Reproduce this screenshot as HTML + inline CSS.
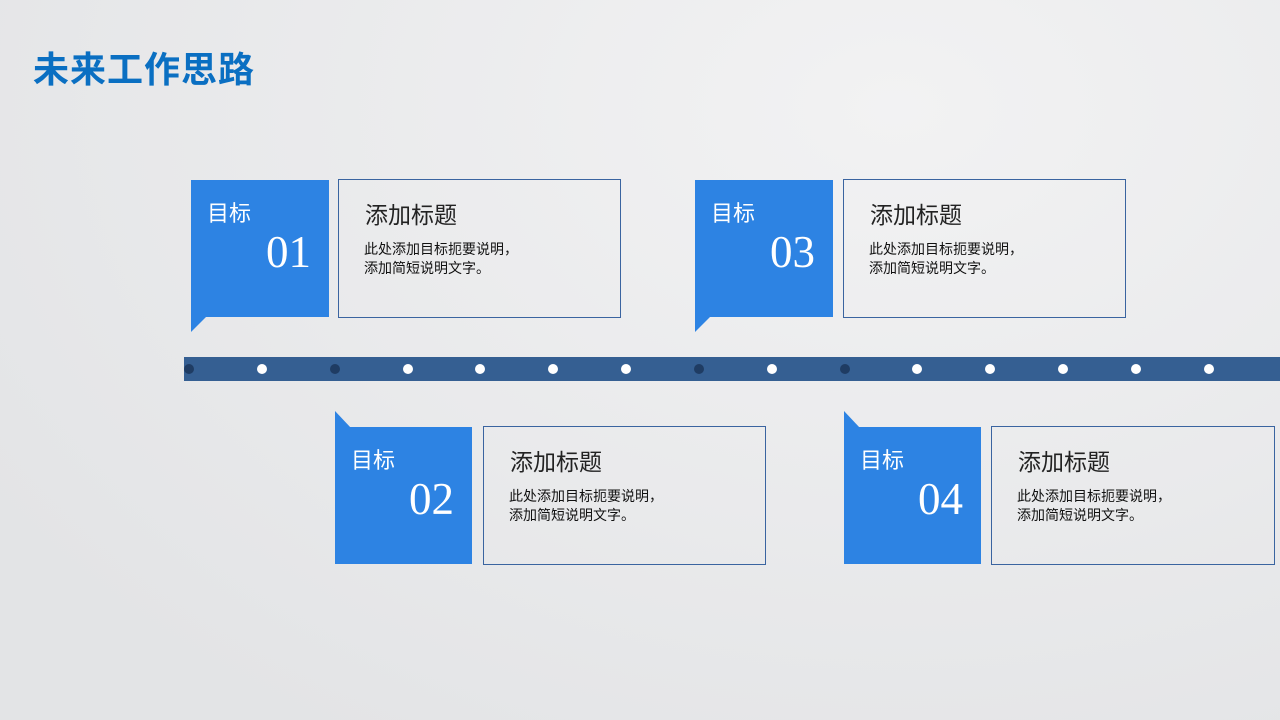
<!DOCTYPE html>
<html><head><meta charset="utf-8"><style>
body{margin:0;width:1280px;height:720px;overflow:hidden;background:radial-gradient(ellipse at 70% 15%,#f2f2f3,#e3e4e6 85%);font-family:"Liberation Sans","Noto Sans CJK SC",sans-serif;position:relative}
.a{position:absolute}
.blue{position:absolute;background:#2d83e3;width:138px;height:137px}
.out{position:absolute;border:1px solid #3a64a0;width:283px;height:139px;box-sizing:border-box}
.lbl{position:absolute;left:16px;top:16px;color:#fff;font-size:22px}
.num{position:absolute;right:18px;top:46px;color:#fff;font-size:45px;font-family:"Liberation Serif",serif}
.h{position:absolute;left:26px;top:16px;font-size:23px;color:#222}
.d{position:absolute;left:25px;top:60px;font-size:14px;line-height:19px;color:#111}
.dot{position:absolute;width:10px;height:10px;border-radius:50%;top:364px;background:#fff}
.dk{background:#1f3c63}
</style></head><body>
<div class="a" style="left:33px;top:41px;font-size:36px;font-weight:bold;color:#0a6fc2;letter-spacing:1px">未来工作思路</div>

<div class="a" style="left:184px;top:357px;width:1096px;height:24px;background:#355f92"></div>
<div class="dot dk" style="left:184px"></div><div class="dot" style="left:257px"></div><div class="dot dk" style="left:330px"></div><div class="dot" style="left:403px"></div><div class="dot" style="left:475px"></div><div class="dot" style="left:548px"></div><div class="dot" style="left:621px"></div><div class="dot dk" style="left:694px"></div><div class="dot" style="left:767px"></div><div class="dot dk" style="left:840px"></div><div class="dot" style="left:912px"></div><div class="dot" style="left:985px"></div><div class="dot" style="left:1058px"></div><div class="dot" style="left:1131px"></div><div class="dot" style="left:1204px"></div>

<svg class="a" style="left:0;top:0" width="1280" height="720">
<polygon points="191,316 207,316 191,332" fill="#2d83e3"/>
<polygon points="695,316 711,316 695,332" fill="#2d83e3"/>
<polygon points="335,411 351,428 335,428" fill="#2d83e3"/>
<polygon points="844,411 860,428 844,428" fill="#2d83e3"/>
</svg>

<div class="blue" style="left:191px;top:180px"><div class="lbl">目标</div><div class="num">01</div></div>
<div class="out" style="left:338px;top:179px"><div class="h">添加标题</div><div class="d">此处添加目标扼要说明，<br>添加简短说明文字。</div></div>

<div class="blue" style="left:695px;top:180px"><div class="lbl">目标</div><div class="num">03</div></div>
<div class="out" style="left:843px;top:179px"><div class="h">添加标题</div><div class="d">此处添加目标扼要说明，<br>添加简短说明文字。</div></div>

<div class="blue" style="left:335px;top:427px;width:137px"><div class="lbl">目标</div><div class="num">02</div></div>
<div class="out" style="left:483px;top:426px"><div class="h">添加标题</div><div class="d">此处添加目标扼要说明，<br>添加简短说明文字。</div></div>

<div class="blue" style="left:844px;top:427px;width:137px"><div class="lbl">目标</div><div class="num">04</div></div>
<div class="out" style="left:991px;top:426px;width:284px"><div class="h">添加标题</div><div class="d">此处添加目标扼要说明，<br>添加简短说明文字。</div></div>
</body></html>
